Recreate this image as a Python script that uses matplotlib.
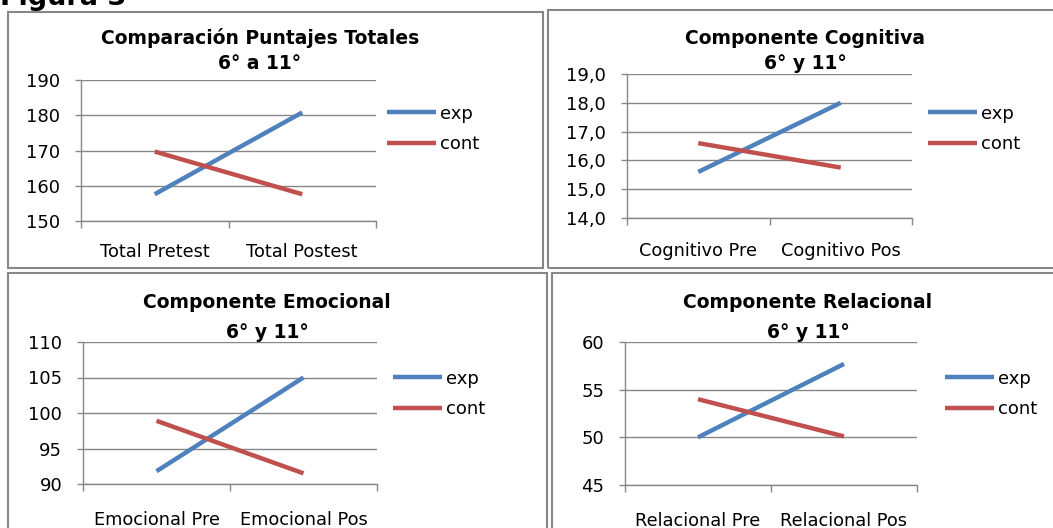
import matplotlib
matplotlib.use("Agg")
import matplotlib.pyplot as plt
from matplotlib.patches import Rectangle

plt.rcParams['font.family'] = ['DejaVu Sans']

# =============================================================================
# DATOS
# =============================================================================
series = ['exp', 'cont']

cat_total = ['Total Pretest', 'Total Postest']
exp_total = [157.6, 180.8]
cont_total = [169.7, 157.6]
yt_total = [150, 160, 170, 180, 190]

cat_cogn = ['Cognitivo Pre', 'Cognitivo Pos']
exp_cogn = [15.6, 18.0]
cont_cogn = [16.6, 15.75]
yt_cogn = [14.0, 15.0, 16.0, 17.0, 18.0, 19.0]

cat_emoc = ['Emocional Pre', 'Emocional Pos']
exp_emoc = [91.8, 105.0]
cont_emoc = [98.9, 91.5]
yt_emoc = [90, 95, 100, 105, 110]

cat_rel = ['Relacional Pre', 'Relacional Pos']
exp_rel = [50.0, 57.7]
cont_rel = [54.0, 50.1]
yt_rel = [45, 50, 55, 60]

AZUL = '#4F81BD'
ROJO = '#C0504D'
GRIS = '#878787'

W, H = 1053, 528
fig = plt.figure(figsize=(W / 100, H / 100), dpi=100)


def px_axes(izq, der, arriba, abajo):
    """rectangulo en pixeles (origen arriba a la izquierda) -> axes"""
    return fig.add_axes([izq / W, 1 - abajo / H, (der - izq) / W, (abajo - arriba) / H])


def marco(izq, der, arriba, abajo):
    fig.patches.append(Rectangle((izq / W, 1 - abajo / H), (der - izq) / W, (abajo - arriba) / H,
                                 transform=fig.transFigure, fill=False, edgecolor=GRIS, lw=1.5))


def grafico(ax, cats, exp, cont, yticks, etiquetas_y, titulo, pos_titulo, pos_leyenda, pad_x):
    ax.plot(range(len(cats)), exp, color=AZUL, lw=3.2, label=series[0], solid_capstyle='butt')
    ax.plot(range(len(cats)), cont, color=ROJO, lw=3.2, label=series[1], solid_capstyle='butt')
    ax.set_xlim(-0.5, len(cats) - 0.5)
    ax.set_ylim(yticks[0], yticks[-1])
    ax.set_yticks(yticks)
    ax.set_yticklabels(etiquetas_y)
    ax.set_xticks(range(len(cats)))
    ax.set_xticklabels(cats)
    ax.set_xticks([-0.5, 0.5, 1.5], minor=True)
    ax.tick_params(axis='x', which='major', length=0, pad=pad_x, labelsize=12.8)
    ax.tick_params(axis='x', which='minor', length=5, color=GRIS, width=1, direction='out')
    ax.tick_params(axis='y', length=4, color=GRIS, width=1, pad=11, labelsize=13)
    ax.grid(axis='y', color=GRIS, lw=1)
    ax.set_axisbelow(True)
    for lado in ['top', 'right']:
        ax.spines[lado].set_visible(False)
    for lado in ['left', 'bottom']:
        ax.spines[lado].set_color(GRIS)
        ax.spines[lado].set_linewidth(1)
    x, y1, y2 = pos_titulo
    fig.text(x / W, 1 - y1 / H, titulo[0], ha='center', va='center', fontsize=13.5, fontweight='bold')
    fig.text(x / W, 1 - y2 / H, titulo[1], ha='center', va='center', fontsize=13.5, fontweight='bold')
    lx, ly = pos_leyenda
    ax.legend(loc='center left', bbox_to_anchor=(lx / W, 1 - ly / H), bbox_transform=fig.transFigure,
              frameon=False, fontsize=13, handlelength=2.7, handletextpad=0.25, labelspacing=0.7,
              borderpad=0, borderaxespad=0)


# marcos de cada grafico
marco(8, 543, 12, 268)
marco(548, 1060, 10, 268)
marco(8, 547, 273, 540)
marco(552, 1060, 273, 540)

fig.text(0.0, 1 - 5 / H, 'Figura 3', ha='left', va='baseline', fontsize=19.5, fontweight='bold')

ax1 = px_axes(81, 376, 80, 221)
grafico(ax1, cat_total, exp_total, cont_total, yt_total, [str(v) for v in yt_total],
        ['Comparación Puntajes Totales', '6° a 11°'], (260, 38, 63), (387, 129), 15.5)

ax2 = px_axes(627, 912, 74, 218)
grafico(ax2, cat_cogn, exp_cogn, cont_cogn, yt_cogn, [f'{v:.1f}'.replace('.', ',') for v in yt_cogn],
        ['Componente Cognitiva', '6° y 11°'], (805, 38, 63), (928, 129), 17.5)

ax3 = px_axes(83, 377, 342, 484)
grafico(ax3, cat_emoc, exp_emoc, cont_emoc, yt_emoc, [str(v) for v in yt_emoc],
        ['Componente Emocional', '6° y 11°'], (267, 303, 332), (393, 394), 19.5)

ax4 = px_axes(625, 917, 342, 485)
grafico(ax4, cat_rel, exp_rel, cont_rel, yt_rel, [str(v) for v in yt_rel],
        ['Componente Relacional', '6° y 11°'], (808, 303, 332), (945, 394), 19.5)

fig.savefig('out.png', dpi=100)
